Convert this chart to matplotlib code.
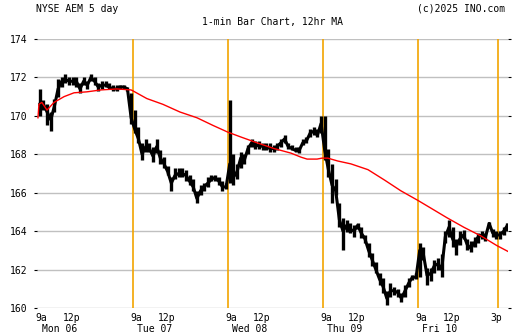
import matplotlib
matplotlib.use('Agg')
import matplotlib.pyplot as plt
from matplotlib.transforms import blended_transform_factory

# 15-minute summaries of the 1-min bars (high / low / last), one list per day
mon_hi = [171.4, 170.8, 170.6, 170.2, 170.9, 171.9, 172.0, 172.2, 172.0, 172.0, 172.0, 171.7, 172.0,
          171.8, 172.2, 172.0, 171.7, 171.8, 171.8, 171.7, 171.6, 171.6, 171.6, 171.6, 171.5, 171.2]
mon_lo = [170.0, 170.3, 169.5, 169.2, 170.2, 171.0, 171.5, 171.7, 171.6, 171.6, 171.5, 171.2, 171.6,
          171.4, 171.8, 171.6, 171.3, 171.4, 171.5, 171.4, 171.3, 171.3, 171.4, 171.4, 171.3, 169.6]
mon_last = [170.6, 170.6, 170.2, 169.8, 170.5, 171.4, 171.8, 171.9, 171.8, 171.8, 171.8, 171.4, 171.8,
            171.6, 172.0, 171.8, 171.5, 171.6, 171.6, 171.5, 171.4, 171.4, 171.5, 171.5, 171.4, 169.9]

tue_hi = [170.3, 169.4, 168.6, 168.8, 168.6, 168.4, 168.8, 168.2, 167.85, 167.4, 166.8, 167.3, 167.3,
          167.3, 167.2, 166.9, 166.7, 166.1, 166.4, 166.5, 166.8, 166.9, 166.9, 166.8, 166.6, 166.5]
tue_lo = [169.1, 168.6, 167.7, 168.1, 168.1, 167.6, 168.06, 167.5, 167.3, 166.9, 166.1, 166.7, 166.8,
          166.8, 166.6, 166.4, 166.1, 165.45, 165.9, 166.1, 166.3, 166.6, 166.6, 166.4, 166.1, 166.2]
tue_last = [169.3, 168.8, 168.0, 168.4, 168.3, 167.9, 168.4, 167.8, 167.5, 167.1, 166.5, 166.9, 167.0,
            167.0, 166.9, 166.6, 166.3, 165.7, 166.1, 166.3, 166.5, 166.7, 166.8, 166.6, 166.3, 166.3]

wed_hi = [170.8, 168.0, 167.5, 168.1, 168.0, 168.5, 168.8, 168.7, 168.7, 168.6, 168.6, 168.6, 168.5,
          168.6, 168.8, 169.0, 168.6, 168.5, 168.4, 168.4, 168.8, 168.9, 169.3, 169.4, 169.3, 170.0]
wed_lo = [166.5, 166.4, 166.7, 167.3, 167.5, 168.0, 168.4, 168.3, 168.3, 168.2, 168.2, 168.1, 168.1,
          168.2, 168.4, 168.6, 168.3, 168.2, 168.1, 168.06, 168.5, 168.6, 168.9, 169.0, 168.9, 169.1]
wed_last = [167.5, 166.8, 167.1, 167.8, 167.7, 168.3, 168.6, 168.4, 168.5, 168.4, 168.4, 168.3, 168.3,
            168.4, 168.6, 168.8, 168.4, 168.3, 168.2, 168.2, 168.6, 168.7, 169.1, 169.2, 169.0, 169.6]

thu_hi = [170.0, 168.3, 167.5, 166.7, 165.45, 164.7, 164.6, 164.4, 164.3, 164.4, 164.2, 163.8, 163.4,
          162.85, 162.4, 161.8, 161.55, 160.9, 161.3, 161.1, 161.0, 160.8, 161.2, 161.55, 161.7, 161.8]
thu_lo = [167.7, 166.8, 165.45, 165.9, 164.2, 163.0, 163.95, 163.9, 163.7, 164.1, 163.65, 163.4, 162.65,
          162.2, 161.8, 161.2, 160.8, 160.15, 160.55, 160.7, 160.55, 160.3, 160.55, 161.1, 161.45, 161.5]
thu_last = [168.2, 167.2, 166.4, 166.1, 164.6, 164.0, 164.3, 164.1, 164.0, 164.3, 163.9, 163.6, 163.0,
            162.5, 162.0, 161.5, 161.1, 160.5, 160.9, 160.9, 160.8, 160.5, 160.9, 161.3, 161.6, 161.6]

fri_hi = [163.4, 163.2, 162.1, 162.1, 162.5, 162.6, 162.8, 164.0, 164.6, 164.2, 163.6, 164.0, 164.05,
          163.6, 163.5, 163.7, 163.9, 164.0, 163.9, 164.5, 164.1, 164.0, 164.0, 164.2, 164.4]
fri_lo = [161.6, 162.5, 161.2, 161.4, 161.8, 162.0, 161.6, 163.4, 163.7, 163.2, 162.75, 163.3, 163.6,
          163.0, 162.9, 163.2, 163.4, 163.6, 163.5, 164.2, 163.7, 163.6, 163.6, 163.8, 164.0]
fri_last = [163.0, 162.8, 161.7, 161.8, 162.2, 162.3, 162.0, 163.7, 164.2, 163.6, 163.2, 163.6, 163.8,
            163.3, 163.1, 163.4, 163.7, 163.8, 163.7, 164.4, 163.9, 163.8, 163.8, 164.0, 164.3]

# 12hr moving average, read at points (trading minutes since Mon open)
ma_min = [0, 4, 16, 37, 66, 107, 148, 201, 259, 324, 382,
          390, 447, 513, 583, 653, 719, 780,
          833, 899, 969, 1039, 1080, 1105, 1146, 1166,
          1190, 1231, 1285, 1355, 1424, 1490, 1560,
          1613, 1679, 1749, 1819, 1884, 1929]
ma_val = [169.9, 170.6, 170.7, 170.3, 170.7, 171.0, 171.2, 171.25, 171.35, 171.4, 171.35,
          171.3, 170.9, 170.6, 170.2, 169.9, 169.5, 169.15,
          168.9, 168.6, 168.3, 168.06, 167.85, 167.75, 167.75, 167.8,
          167.8, 167.65, 167.5, 167.2, 166.65, 166.1, 165.6,
          165.2, 164.7, 164.2, 163.75, 163.25, 162.95]

day_names = ['Mon 06', 'Tue 07', 'Wed 08', 'Thu 09', 'Fri 10']
yticks = [160, 162, 164, 166, 168, 170, 172, 174]

SESSION = 390  # minutes 9:30-16:00
ORANGE = '#f2a400'

plt.rcParams['font.family'] = ['DejaVu Sans Mono']
plt.rcParams['font.size'] = 7

fig = plt.figure(figsize=(5.12, 3.35), dpi=100)
ax = fig.add_axes([37 / 512, 1 - 308 / 335, 471 / 512, 269 / 335])

days = [(mon_hi, mon_lo, mon_last), (tue_hi, tue_lo, tue_last), (wed_hi, wed_lo, wed_last),
        (thu_hi, thu_lo, thu_last), (fri_hi, fri_lo, fri_last)]
xs, his, los, lasts = [], [], [], []
for d, (hi, lo, last) in enumerate(days):
    for i in range(len(hi)):
        xs.append(d * SESSION + 15 * i + 7.5)
        his.append(hi[i])
        los.append(lo[i])
        lasts.append(last[i])

for y in yticks:
    ax.axhline(y, color='#c0c0c0', lw=1.0, zorder=0)

for m in [SESSION, 2 * SESSION, 3 * SESSION, 4 * SESSION, 4 * SESSION + 330]:
    ax.axvline(m, color=ORANGE, lw=1.2, zorder=1)

# price: 15-min ranges plus the path of the last prices
ax.vlines(xs, los, his, color='black', lw=2.4, zorder=3)
ax.plot(xs, lasts, color='black', lw=2.2, zorder=3)
ax.plot(ma_min, ma_val, color='red', lw=1.0, zorder=4)

ax.set_xlim(-4, 1930)
ax.set_ylim(160, 174)
for s in ax.spines.values():
    s.set_visible(False)
ax.set_yticks(yticks)
ax.set_yticklabels([str(v) for v in yticks])
ax.tick_params(axis='y', left=True, right=True, length=2.5, width=0.8, direction='out', pad=4)
ax.set_xticks([])

# two-row time axis
tr = blended_transform_factory(ax.transData, fig.transFigure)
row1 = 1 - 318 / 335
row2 = 1 - 329 / 335
for d in range(5):
    o = d * SESSION
    ax.text(o - 10, row1, '9a', transform=tr, ha='left', va='center', clip_on=False)
    ax.text(o + 140, row1, '12p', transform=tr, ha='center', va='center', clip_on=False)
    ax.text(o + 16, row2, day_names[d], transform=tr, ha='left', va='center', clip_on=False)
ax.text(4 * SESSION + 323, row1, '3p', transform=tr, ha='center', va='center', clip_on=False)

fig.text(36 / 512, 1 - 8.5 / 335, 'NYSE AEM 5 day', ha='left', va='center')
fig.text(505 / 512, 1 - 8.5 / 335, '(c)2025 INO.com', ha='right', va='center')
fig.text(272 / 512, 1 - 21.5 / 335, '1-min Bar Chart, 12hr MA', ha='center', va='center')

fig.savefig('out.png', dpi=100)
